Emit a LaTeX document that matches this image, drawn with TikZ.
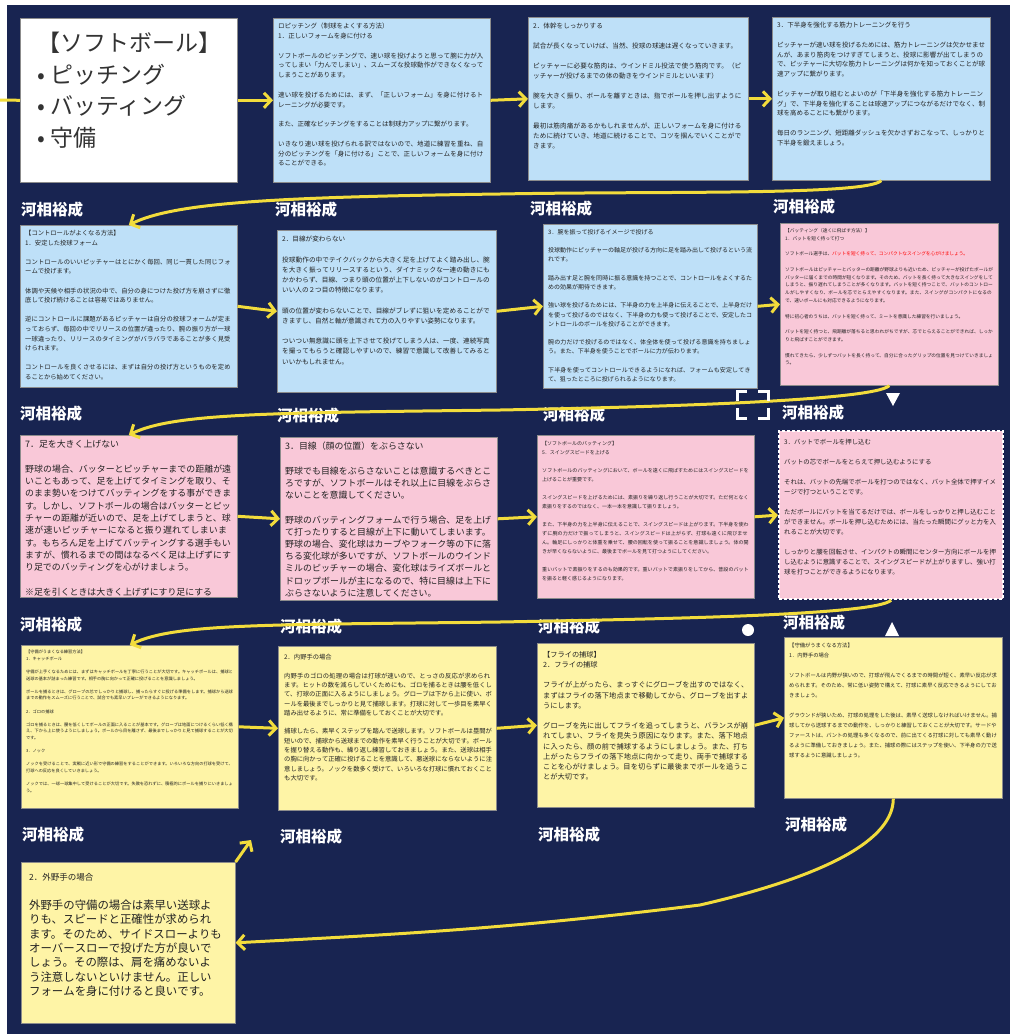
\documentclass[tikz,border=0pt]{standalone}
\usepackage{fontspec}
\newfontfamily\cjk{Noto Sans CJK JP}
\usetikzlibrary{arrows.meta}
\XeTeXlinebreaklocale "ja"
\XeTeXlinebreakskip=0pt plus 1pt
\definecolor{navy}{HTML}{182451}
\definecolor{cblue}{HTML}{BEE0F8}
\definecolor{cpink}{HTML}{F9C8D8}
\definecolor{cyel}{HTML}{FEF4A6}
\definecolor{ayel}{HTML}{F2DC3C}
\definecolor{tgray}{HTML}{222222}
\newcommand\bl{\par\vspace{\baselineskip}}
\newcommand\fs[2]{\fontsize{#1}{#2}\selectfont}
\begin{document}
\begin{tikzpicture}[x=1pt,y=-1pt,
  card/.style={anchor=north west, inner sep=0pt, draw=black!45, line width=0.6pt},
  tx/.style={anchor=north west, inner sep=0pt, align=left, text=tgray},
  auth/.style={anchor=west, inner sep=0pt, text=white, font=\cjk\bfseries\fs{15.5}{15.5}},
  yarrow/.style={draw=ayel, line width=3pt, -{Straight Barb[length=7pt,width=15pt]}},
  yline/.style={draw=ayel, line width=3pt}
]
\useasboundingbox (0,0) rectangle (1010,1034);
\fill[white] (0,0) rectangle (1010,1034);
\fill[navy] (7,5) rectangle (1010,1034);

% ---------- cards ----------
\node[card, fill=white, minimum width=217pt, minimum height=164pt] (c11) at (20,18) {};
\node[card, fill=cblue, minimum width=217pt, minimum height=164pt] (c12) at (273,18) {};
\node[card, fill=cblue, minimum width=220pt, minimum height=163pt] (c13) at (528,17) {};
\node[card, fill=cblue, minimum width=218pt, minimum height=163pt] (c14) at (772,17) {};
\node[card, fill=cblue, minimum width=217pt, minimum height=162pt] (c21) at (20,225) {};
\node[card, fill=cblue, minimum width=219pt, minimum height=162pt] (c22) at (277,230) {};
\node[card, fill=cblue, minimum width=214pt, minimum height=164pt] (c23) at (543,224) {};
\node[card, fill=cpink, minimum width=218pt, minimum height=162pt] (c24) at (780,223) {};
\node[card, fill=cpink, minimum width=217pt, minimum height=162pt] (c31) at (20,435) {};
\node[card, fill=cpink, minimum width=217pt, minimum height=163pt] (c32) at (280,437) {};
\node[card, fill=cpink, minimum width=217pt, minimum height=163pt] (c33) at (537,435) {};
\node[card, fill=cpink, draw=white, line width=2.2pt, dash pattern=on 3pt off 2pt, minimum width=224pt, minimum height=168pt] (c34) at (778,430) {};
\node[card, fill=cyel, minimum width=217pt, minimum height=163pt] (c41) at (21,645) {};
\node[card, fill=cyel, minimum width=218pt, minimum height=164pt] (c42) at (278,646) {};
\node[card, fill=cyel, minimum width=217pt, minimum height=164pt] (c43) at (537,643) {};
\node[card, fill=cyel, minimum width=218pt, minimum height=161pt] (c44) at (784,637) {};
\node[card, fill=cyel, minimum width=214pt, minimum height=161pt] (c51) at (21,862) {};

% ---------- texts ----------
\node[tx, text=black!80, font=\cjk\fs{23}{31.5}] (t11) at (37,32)
 {【ソフトボール】\\•\hspace{5pt}ピッチング\\•\hspace{5pt}バッティング\\•\hspace{5pt}守備};

\node[tx, font=\cjk\fs{6.5}{9.8}, text width=207pt] (t12) at ([shift={(5pt,-5pt)}]c12.north west)
 {ロピッチング（制球をよくする方法）\par 1．正しいフォームを身に付ける\bl
 ソフトボールのピッチングで、速い球を投げようと思って腕に力が入ってしまい「力んでしまい」、スムーズな投球動作ができなくなってしまうことがあります。\bl
 速い球を投げるためには、まず、「正しいフォーム」を身に付けるトレーニングが必要です。\bl
 また、正確なピッチングをすることは制球力アップに繋がります。\bl
 いきなり速い球を投げられる訳ではないので、地道に練習を重ね、自分のピッチングを「身に付ける」ことで、正しいフォームを身に付けることができる。};

\node[tx, font=\cjk\fs{6.6}{10}, text width=210pt] (t13) at ([shift={(5pt,-6pt)}]c13.north west)
 {2．体幹をしっかりする\bl
 試合が長くなっていけば、当然、投球の球速は遅くなっていきます。\bl
 ピッチャーに必要な筋肉は、ウインドミル投法で使う筋肉です。（ピッチャーが投げるまでの体の動きをウインドミルといいます）\bl
 腕を大きく振り、ボールを離すときは、指でボールを押し出すようにします。\bl
 最初は筋肉痛があるかもしれませんが、正しいフォームを身に付けるために続けていき、地道に続けることで、コツを掴んでいくことができます。};

\node[tx, font=\cjk\fs{6.5}{9.8}, text width=208pt] (t14) at ([shift={(5pt,-5pt)}]c14.north west)
 {3．下半身を強化する筋力トレーニングを行う\bl
 ピッチャーが速い球を投げるためには、筋力トレーニングは欠かせませんが、あまり筋肉をつけすぎてしまうと、投球に影響が出てしまうので、ピッチャーに大切な筋力トレーニングは何かを知っておくことが球速アップに繋がります。\bl
 ピッチャーが取り組むとよいのが「下半身を強化する筋力トレーニング」で、下半身を強化することは球速アップにつながるだけでなく、制球を高めることにも繋がります。\bl
 毎日のランニング、短距離ダッシュを欠かさずおこなって、しっかりと下半身を鍛えましょう。};

\node[tx, font=\cjk\fs{6.3}{9.6}, text width=207pt] (t21) at ([shift={(5pt,-5pt)}]c21.north west)
 {【コントロールがよくなる方法】\par 1．安定した投球フォーム\bl
 コントロールのいいピッチャーはとにかく毎回、同じ一貫した同じフォームで投げます。\bl
 体調や天候や相手の状況の中で、自分の身につけた投げ方を崩さずに徹底して投げ続けることは容易ではありません。\bl
 逆にコントロールに課題があるピッチャーは自分の投球フォームが定まっておらず、毎回の中でリリースの位置が違ったり、腕の振り方が一球一球違ったり、リリースのタイミングがバラバラであることが多く見受けられます。\bl
 コントロールを良くさせるには、まずは自分の投げ方というものを定めることから始めてください。};

\node[tx, font=\cjk\fs{6.6}{10.2}, text width=209pt] (t22) at ([shift={(5pt,-6pt)}]c22.north west)
 {2．目線が変わらない\bl
 投球動作の中でテイクバックから大きく足を上げてよく踏み出し、腕を大きく振ってリリースするという、ダイナミックな一連の動きにもかかわらず、目線、つまり頭の位置が上下しないのがコントロールのいい人の２つ目の特徴になります。\bl
 頭の位置が変わらないことで、目線がブレずに狙いを定めることができますし、自然と軸が意識されて力の入りやすい姿勢になります。\bl
 ついつい無意識に頭を上下させて投げてしまう人は、一度、連続写真を撮ってもらうと確認しやすいので、練習で意識して改善してみるといいかもしれません。};

\node[tx, font=\cjk\fs{6}{9.2}, text width=204pt] (t23) at ([shift={(5pt,-5pt)}]c23.north west)
 {3．腕を振って投げるイメージで投げる\bl
 投球動作にピッチャーの軸足が投げる方向に足を踏み出して投げるという流れです。\bl
 踏み出す足と腕を同時に振る意識を持つことで、コントロールをよくするための効果が期待できます。\bl
 強い球を投げるためには、下半身の力を上半身に伝えることで、上半身だけを使って投げるのではなく、下半身の力も使って投げることで、安定したコントロールのボールを投げることができます。\bl
 腕の力だけで投げるのではなく、体全体を使って投げる意識を持ちましょう。また、下半身を使うことでボールに力が伝わります。\bl
 下半身を使ってコントロールできるようになれば、フォームも安定してきて、狙ったところに投げられるようになります。};

\node[tx, font=\cjk\fs{4.7}{7.8}, text width=208pt] (t24) at ([shift={(5pt,-5pt)}]c24.north west)
 {【バッティング（遠くに飛ばす方法）】\par 1．バットを短く持って打つ\bl
 ソフトボール選手は、{\color{red}バットを短く持って、コンパクトなスイングを心がけましょう。}\bl
 ソフトボールはピッチャーとバッターの距離が野球よりも近いため、ピッチャーが投げたボールがバッターに届くまでの時間が短くなります。そのため、バットを長く持って大きなスイングをしてしまうと、振り遅れてしまうことが多くなります。バットを短く持つことで、バットのコントロールがしやすくなり、ボールを芯でとらえやすくなります。また、スイングがコンパクトになるので、速いボールにも対応できるようになります。\bl
 特に初心者のうちは、バットを短く持って、ミートを意識した練習を行いましょう。\bl
 バットを短く持つと、飛距離が落ちると思われがちですが、芯でとらえることができれば、しっかりと飛ばすことができます。\bl
 慣れてきたら、少しずつバットを長く持って、自分に合ったグリップの位置を見つけていきましょう。};

\node[tx, font=\cjk\fs{8.9}{12.3}, text width=207pt] (t31) at ([shift={(5pt,-5pt)}]c31.north west)
 {7．足を大きく上げない\bl
 野球の場合、バッターとピッチャーまでの距離が遠いこともあって、足を上げてタイミングを取り、そのまま勢いをつけてバッティングをする事ができます。しかし、ソフトボールの場合はバッターとピッチャーの距離が近いので、足を上げてしまうと、球速が速いピッチャーになると振り遅れてしまいます。もちろん足を上げてバッティングする選手もいますが、慣れるまでの間はなるべく足は上げずにすり足でのバッティングを心がけましょう。\bl
 ※足を引くときは大きく上げずにすり足にする};

\node[tx, font=\cjk\fs{8.9}{12.2}, text width=207pt] (t32) at ([shift={(5pt,-5pt)}]c32.north west)
 {3．目線（顔の位置）をぶらさない\bl
 野球でも目線をぶらさないことは意識するべきところですが、ソフトボールはそれ以上に目線をぶらさないことを意識してください。\bl
 野球のバッティングフォームで行う場合、足を上げて打ったりすると目線が上下に動いてしまいます。野球の場合、変化球はカーブやフォーク等の下に落ちる変化球が多いですが、ソフトボールのウインドミルのピッチャーの場合、変化球はライズボールとドロップボールが主になるので、特に目線は上下にぶらさないように注意してください。};

\node[tx, font=\cjk\fs{5}{9}, text width=207pt] (t33) at ([shift={(5pt,-6pt)}]c33.north west)
 {【ソフトボールのバッティング】\par 5．スイングスピードを上げる\bl
 ソフトボールのバッティングにおいて、ボールを遠くに飛ばすためにはスイングスピードを上げることが重要です。\bl
 スイングスピードを上げるためには、素振りを繰り返し行うことが大切です。ただ何となく素振りをするのではなく、一本一本を意識して振りましょう。\bl
 また、下半身の力を上半身に伝えることで、スイングスピードは上がります。下半身を使わずに腕の力だけで振ってしまうと、スイングスピードは上がらず、打球も遠くに飛びません。軸足にしっかりと体重を乗せて、腰の回転を使って振ることを意識しましょう。体の開きが早くならないように、最後までボールを見て打つようにしてください。\bl
 重いバットで素振りをするのも効果的です。重いバットで素振りをしてから、普段のバットを振ると軽く感じるようになります。};

\node[tx, font=\cjk\fs{6.4}{10}, text width=212pt] (t34) at ([shift={(6pt,-9pt)}]c34.north west)
 {3．バットでボールを押し込む\bl
 バットの芯でボールをとらえて押し込むようにする\bl
 それは、バットの先端でボールを打つのではなく、バット全体で押すイメージで打つということです。\bl
 ただボールにバットを当てるだけでは、ボールをしっかりと押し込むことができません。ボールを押し込むためには、当たった瞬間にグッと力を入れることが大切です。\bl
 しっかりと腰を回転させ、インパクトの瞬間にセンター方向にボールを押し込むように意識することで、スイングスピードが上がりますし、強い打球を打つことができるようになります。};

\node[tx, font=\cjk\fs{4.2}{6.6}, text width=207pt] (t41) at ([shift={(5pt,-5pt)}]c41.north west)
 {【守備がうまくなる練習方法】\par 1．キャッチボール\bl
 守備が上手くなるためには、まずはキャッチボールを丁寧に行うことが大切です。キャッチボールは、捕球と送球の基本が詰まった練習です。相手の胸に向かって正確に投げることを意識しましょう。\bl
 ボールを捕るときは、グローブの芯でしっかりと捕球し、捕ったらすぐに投げる準備をします。捕球から送球までの動作をスムーズに行うことで、試合でも素早いプレーができるようになります。\bl
 2．ゴロの捕球\bl
 ゴロを捕るときは、腰を低くしてボールの正面に入ることが基本です。グローブは地面につけるくらい低く構え、下から上に使うようにしましょう。ボールから目を離さず、最後までしっかりと見て捕球することが大切です。\bl
 3．ノック\bl
 ノックを受けることで、実戦に近い形で守備の練習をすることができます。いろいろな方向の打球を受けて、打球への反応を良くしていきましょう。\bl
 ノックでは、一球一球集中して受けることが大切です。失敗を恐れずに、積極的にボールを捕りにいきましょう。};

\node[tx, font=\cjk\fs{6.3}{9.3}, text width=208pt] (t42) at ([shift={(6pt,-8pt)}]c42.north west)
 {2．内野手の場合\bl
 内野手のゴロの処理の場合は打球が速いので、とっさの反応が求められます。ヒットの数を減らしていくためにも、ゴロを捕るときは腰を低くして、打球の正面に入るようにしましょう。グローブは下から上に使い、ボールを最後までしっかりと見て捕球します。打球に対して一歩目を素早く踏み出せるように、常に準備をしておくことが大切です。\bl
 捕球したら、素早くステップを踏んで送球します。ソフトボールは塁間が短いので、捕球から送球までの動作を素早く行うことが大切です。ボールを握り替える動作も、繰り返し練習しておきましょう。また、送球は相手の胸に向かって正確に投げることを意識して、悪送球にならないように注意しましょう。ノックを数多く受けて、いろいろな打球に慣れておくことも大切です。};

\node[tx, font=\cjk\fs{7.2}{10.2}, text width=207pt] (t43) at ([shift={(6pt,-8pt)}]c43.north west)
 {【フライの捕球】\par 2．フライの捕球\bl
 フライが上がったら、まっすぐにグローブを出すのではなく、まずはフライの落下地点まで移動してから、グローブを出すようにします。\bl
 グローブを先に出してフライを追ってしまうと、バランスが崩れてしまい、フライを見失う原因になります。また、落下地点に入ったら、顔の前で捕球するようにしましょう。また、打ち上がったらフライの落下地点に向かって走り、両手で捕球することを心がけましょう。目を切らずに最後までボールを追うことが大切です。};

\node[tx, font=\cjk\fs{5.3}{10}, text width=208pt] (t44) at ([shift={(5pt,-6pt)}]c44.north west)
 {【守備がうまくなる方法】\par 1．内野手の場合\bl
 ソフトボールは内野が狭いので、打球が飛んでくるまでの時間が短く、素早い反応が求められます。そのため、常に低い姿勢で構えて、打球に素早く反応できるようにしておきましょう。\bl
 グラウンドが狭いため、打球の処理をした後は、素早く送球しなければいけません。捕球してから送球するまでの動作を、しっかりと練習しておくことが大切です。サードやファーストは、バントの処理も多くなるので、前に出てくる打球に対しても素早く動けるように準備しておきましょう。また、捕球の際にはステップを使い、下半身の力で送球するように意識しましょう。};

\node[tx, font=\cjk\fs{11.4}{14.3}, text width=200pt] (t51) at ([shift={(8pt,-11pt)}]c51.north west)
 {{\fs{8.5}{12}2．外野手の場合}\par\vspace{15pt}
 外野手の守備の場合は素早い送球よ\\
 りも、スピードと正確性が求められ\\
 ます。そのため、サイドスローよりも\\
 オーバースローで投げた方が良いで\\
 しょう。その際は、肩を痛めないよ\\
 う注意しないといけません。正しい\\
 フォームを身に付けると良いです。};

% ---------- author labels ----------
\node[auth] (a11) at (21,210) {河相裕成};
\node[auth] (a12) at (275,210) {河相裕成};
\node[auth] (a13) at (530,209) {河相裕成};
\node[auth] (a14) at (773,207) {河相裕成};
\node[auth] (a21) at (20,414) {河相裕成};
\node[auth] (a22) at (277,416) {河相裕成};
\node[auth] (a23) at (543,415) {河相裕成};
\node[auth] (a24) at (782,413) {河相裕成};
\node[auth] (a31) at (20,625) {河相裕成};
\node[auth] (a32) at (280,627) {河相裕成};
\node[auth] (a33) at (538,627) {河相裕成};
\node[auth] (a34) at (783,623) {河相裕成};
\node[auth] (a41) at (22,835) {河相裕成};
\node[auth] (a42) at (280,837) {河相裕成};
\node[auth] (a43) at (538,835) {河相裕成};
\node[auth] (a44) at (785,825) {河相裕成};

% ---------- connectors ----------
\coordinate (entry) at (0,100);
\draw[yline] (entry) -- (c11.west);
\draw[yarrow] (c11.east) -- (c12.west);
\draw[yarrow] (c12.east) -- (c13.west);
\draw[yarrow] (c13.east) -- (c14.west);
\draw[yarrow] (c14.south) .. controls +(-15,15) and +(160,-3) .. (500,194)
   .. controls +(-230,3) and +(45,-22) .. (c21.north);
\draw[yarrow] (c21.east) -- (c22.west);
\draw[yarrow] (c22.east) -- (c23.west);
\draw[yarrow] (c23.east) -- (c24.west);
\draw[yarrow] (c24.south) .. controls +(-15,15) and +(160,-3) .. (500,410)
   .. controls +(-230,3) and +(45,-22) .. (c31.north);
\draw[yarrow] (c31.east) -- (c32.west);
\draw[yarrow] (c32.east) -- (c33.west);
\draw[yarrow] (c33.east) -- (c34.west);
\draw[yarrow] (c34.south) .. controls +(-15,15) and +(160,-3) .. (500,622)
   .. controls +(-230,3) and +(45,-22) .. (c41.north);
\draw[yarrow] (c41.east) -- (c42.west);
\draw[yarrow] (c42.east) -- (c43.west);
\draw[yarrow] (c43.east) -- (c44.west);
\draw[yarrow] (c44.south) .. controls +(0,40) and +(130,-30) .. (700,905)
   .. controls +(-200,25) and +(150,-8) .. (c51.east);
\coordinate (upend) at (251,840);
\draw[yarrow] (c51.north east) -- (upend);

% ---------- white marks ----------
\begin{scope}[draw=white, line width=3pt]
\draw (737,401) -- (737,391) -- (747,391);
\draw (758,391) -- (768,391) -- (768,401);
\draw (737,408) -- (737,418) -- (747,418);
\draw (758,418) -- (768,418) -- (768,408);
\end{scope}
\fill[white] (886,393) -- (900,393) -- (893,406) -- cycle;
\fill[white] (748,630) circle (6);
\fill[white] (885,636) -- (899,636) -- (892,622) -- cycle;
\end{tikzpicture}
\end{document}
